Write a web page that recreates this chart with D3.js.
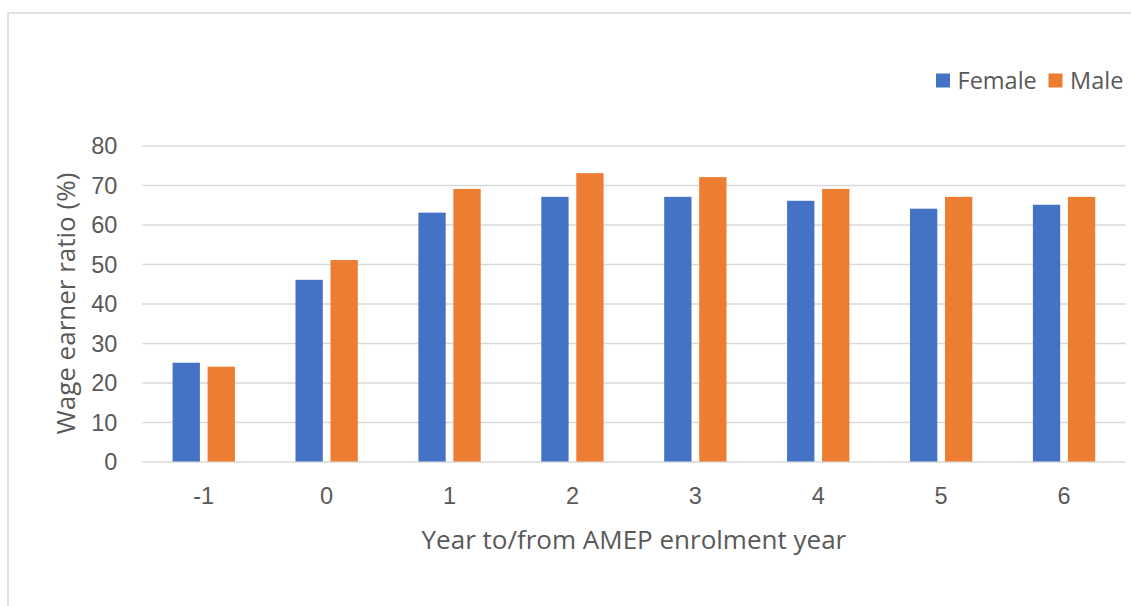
<!DOCTYPE html>
<html>
<head>
<meta charset="utf-8">
<script src="https://cdn.jsdelivr.net/npm/d3@7"></script>
<style>
  html, body { margin: 0; padding: 0; background: #fff; }
  svg { display: block; font-family: "Open Sans", sans-serif; }
</style>
</head>
<body>
<svg id="chart" width="1131" height="606"></svg>
<script>
// Wage earner ratio by year relative to AMEP enrolment, split by sex
const years = ["-1", "0", "1", "2", "3", "4", "5", "6"];
const seriesNames = ["Female", "Male"];
const female = [25, 46, 63, 67, 67, 66, 64, 65];
const male = [24, 51, 69, 73, 72, 69, 67, 67];
const yTicks = [0, 10, 20, 30, 40, 50, 60, 70, 80];
const colors = ["#4472C4", "#ED7D31"];

const values = [female, male];
const svg = d3.select("#chart");
const W = 1131, H = 606;
const plot = { left: 142.3, right: 1125.5, top: 145.5, bottom: 461.5 };
const textColor = "#595959";
const gridColor = "#d9d9d9";

// chart frame (continues past the right and bottom edges)
svg.append("rect")
  .attr("x", 8).attr("y", 13)
  .attr("width", W + 20).attr("height", H + 20)
  .attr("fill", "#fff")
  .attr("stroke", gridColor).attr("stroke-width", 1.5);

const x0 = d3.scaleBand().domain(years)
  .range([plot.left, plot.right])
  .paddingInner(0.493).paddingOuter(0.2465);
const x1 = d3.scaleBand().domain(seriesNames)
  .range([0, x0.bandwidth()])
  .paddingInner(0.22);
const y = d3.scaleLinear().domain([0, 80]).range([plot.bottom, plot.top]);
const color = d3.scaleOrdinal().domain(seriesNames).range(colors);

// gridlines + y tick labels
const yAxis = d3.axisLeft(y).tickValues(yTicks)
  .tickSize(-(plot.right - plot.left)).tickPadding(25);
const gy = svg.append("g")
  .attr("transform", `translate(${plot.left},0)`)
  .call(yAxis);
gy.select(".domain").remove();
gy.selectAll(".tick line").attr("stroke", gridColor).attr("stroke-width", 1.5);
gy.selectAll(".tick text")
  .attr("fill", textColor)
  .style("font-size", "23.5px")
  .attr("dy", "0.35em");

// bars
const groups = svg.append("g").selectAll("g")
  .data(years)
  .join("g")
  .attr("transform", d => `translate(${x0(d)},0)`);
groups.selectAll("rect")
  .data((d, i) => seriesNames.map((s, k) => ({ s, v: values[k][i] })))
  .join("rect")
  .attr("x", d => x1(d.s))
  .attr("width", x1.bandwidth())
  .attr("y", d => y(d.v))
  .attr("height", d => y(0) - y(d.v))
  .attr("fill", d => color(d.s));

// x tick labels
const xAxis = d3.axisBottom(x0).tickSize(0).tickPadding(26);
const gx = svg.append("g")
  .attr("transform", `translate(0,${plot.bottom})`)
  .call(xAxis);
gx.select(".domain").remove();
gx.selectAll(".tick text")
  .attr("fill", textColor)
  .style("font-size", "23.5px")
  .attr("dy", "0.71em");

// axis titles
svg.append("text")
  .attr("x", (plot.left + plot.right) / 2)
  .attr("y", 549)
  .attr("text-anchor", "middle")
  .attr("fill", textColor)
  .style("font-size", "26px")
  .text("Year to/from AMEP enrolment year");

svg.append("text")
  .attr("transform", `translate(75,${(plot.top + plot.bottom) / 2}) rotate(-90)`)
  .attr("text-anchor", "middle")
  .attr("fill", textColor)
  .style("font-size", "26px")
  .text("Wage earner ratio (%)");

// legend
const legendItems = [
  { name: seriesNames[0], sx: 936, tx: 957.5 },
  { name: seriesNames[1], sx: 1048.5, tx: 1070 }
];
const lg = svg.append("g");
legendItems.forEach(it => {
  lg.append("rect")
    .attr("x", it.sx).attr("y", 73.5)
    .attr("width", 14).attr("height", 14)
    .attr("fill", color(it.name));
  lg.append("text")
    .attr("x", it.tx).attr("y", 88.5)
    .attr("fill", textColor)
    .style("font-size", "23.5px")
    .text(it.name);
});
</script>
</body>
</html>
